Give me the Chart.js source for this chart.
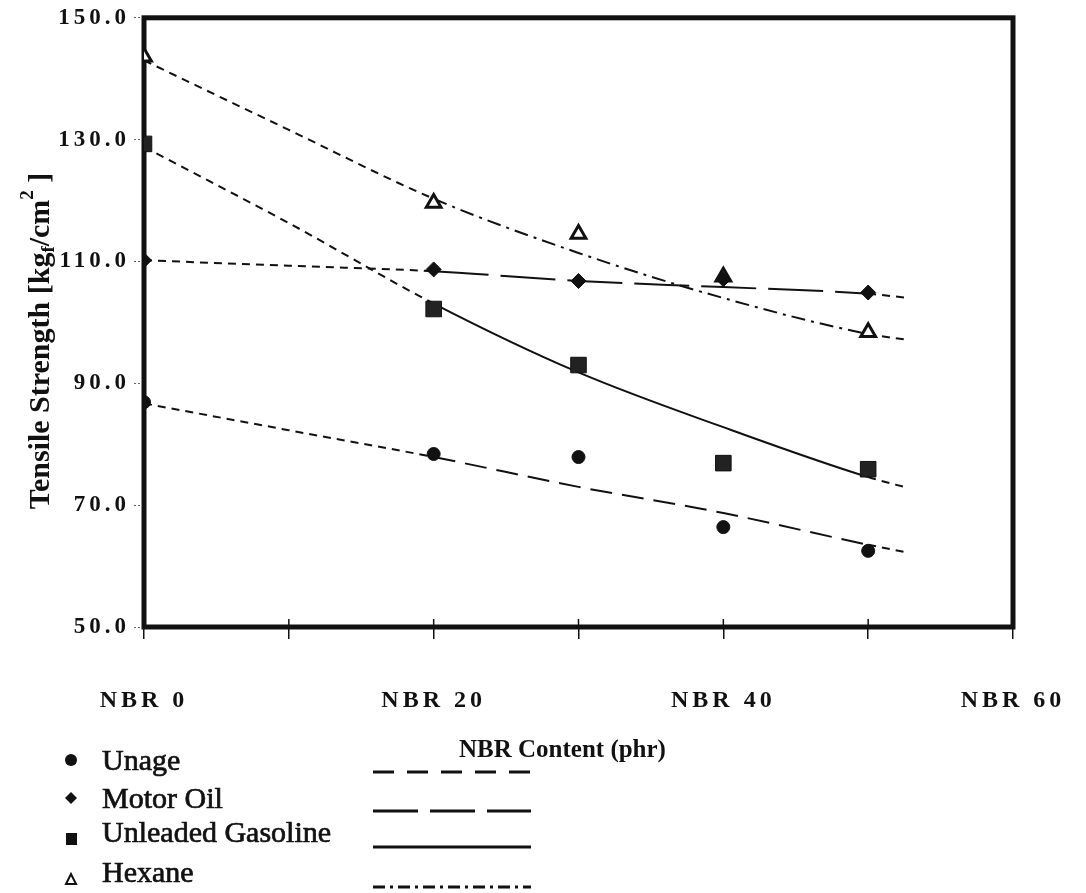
<!DOCTYPE html>
<html>
<head>
<meta charset="utf-8">
<title>Tensile Strength vs NBR Content</title>
<script src="https://cdn.jsdelivr.net/npm/chart.js@4.4.0/dist/chart.umd.min.js"></script>
<style>
  body { margin: 0; background: #fff; }
  #wrap { position: relative; width: 1086px; height: 893px; }
  #chart { position: absolute; left: 0; top: 0; }
  #legend { position: absolute; left: 0; top: 0; pointer-events: none; }
</style>
</head>
<body>
<div id="wrap">
  <canvas id="chart" width="1086" height="893"></canvas>
  <svg id="legend" width="1086" height="893" xmlns="http://www.w3.org/2000/svg"></svg>
</div>
<script>
// measured points
const nbrContent = [0, 20, 30, 40, 50];
const unage = [86.9, 78.4, 77.9, 66.4, 62.5];
const motorOil = [110.2, 108.7, 106.8, 107.1, 104.9];
const unleaded = [129.3, 102.2, 93.0, 76.9, 75.9];
const hexane = [143.6, 119.6, 114.5, 107.5, 98.4];

// trend curves
const trendX = [0, 10, 20, 30, 40, 50, 52.8];
const unageTrend = [86.7, 82.3, 77.9, 73.0, 68.7, 63.5, 62.2];
const motorOilTrend = [110.2, 109.3, 108.4, 106.8, 105.8, 104.7, 104.0];
const unleadedTrend = [128.8, 116.3, 103.1, 91.8, 82.8, 74.6, 72.8];
const hexaneTrend = [143.0, 131.6, 120.3, 111.4, 104.0, 98.1, 97.1];

const seriesNames = ['Unage', 'Motor Oil', 'Unleaded Gasoline', 'Hexane'];
const xLabelValues = [0, 20, 40, 60];
const xTitle = 'NBR Content (phr)';

const ink = '#111';
const shortDash = [8, 6];

function points(xs, ys) {
  return xs.map((x, i) => ({ x: x, y: ys[i] }));
}

function markerSet(label, values, style, radius, fill, order) {
  return {
    label: label,
    data: points(nbrContent, values),
    showLine: false,
    pointStyle: style,
    pointRadius: radius,
    pointBackgroundColor: fill,
    pointBorderColor: ink,
    pointBorderWidth: style === 'triangle' ? 3 : 1,
    order: order
  };
}

// short dash near both ends, series style in the middle
function trendSet(values, midDash) {
  return {
    data: points(trendX, values),
    showLine: true,
    borderColor: ink,
    borderWidth: 2,
    pointRadius: 0,
    cubicInterpolationMode: 'monotone',
    segment: {
      borderDash: ctx => (trendX[ctx.p1DataIndex] <= 20 || trendX[ctx.p0DataIndex] >= 50) ? shortDash : midDash
    },
    order: 10
  };
}

// canvas text spacing like the scanned figure
const spacing = {
  id: 'spacing',
  beforeDraw(chart) { chart.ctx.letterSpacing = '4px'; },
  afterDraw(chart) { chart.ctx.letterSpacing = '0px'; }
};

// heavy box round the plot
const frame = {
  id: 'frame',
  beforeDatasetsDraw(chart) {
    const a = chart.chartArea, ctx = chart.ctx;
    ctx.save();
    ctx.strokeStyle = ink;
    ctx.lineWidth = 5;
    ctx.strokeRect(a.left, a.top, a.right - a.left, a.bottom - a.top);
    // x ticks poke a little into the plot
    ctx.lineWidth = 1.5;
    const xs = chart.scales.x;
    xs.ticks.forEach(t => {
      const px = xs.getPixelForValue(t.value);
      ctx.beginPath();
      ctx.moveTo(px, a.bottom);
      ctx.lineTo(px, a.bottom - 8);
      ctx.stroke();
    });
    ctx.restore();
  }
};

// y title with sub / superscript
const yTitle = {
  id: 'yTitle',
  afterDraw(chart) {
    const ctx = chart.ctx;
    const big = 'bold 30px "Liberation Serif"';
    const small = 'bold 19px "Liberation Serif"';
    const parts = [
      ['Tensile Strength [kg', big, 0],
      ['f', small, 5],
      ['/cm', big, 0],
      ['2', small, -16],
      [' ]', big, 0]
    ];
    ctx.save();
    ctx.letterSpacing = '0px';
    ctx.translate(49, 341);
    ctx.rotate(-Math.PI / 2);
    let total = 0;
    parts.forEach(p => { ctx.font = p[1]; total += ctx.measureText(p[0]).width; });
    let x = -total / 2;
    ctx.fillStyle = ink;
    ctx.textBaseline = 'alphabetic';
    parts.forEach(p => {
      ctx.font = p[1];
      ctx.fillText(p[0], x, p[2]);
      x += ctx.measureText(p[0]).width;
    });
    ctx.restore();
  }
};

new Chart(document.getElementById('chart'), {
  type: 'scatter',
  data: {
    datasets: [
      markerSet(seriesNames[0], unage, 'circle', 6.5, ink, 0),
      markerSet(seriesNames[1], motorOil, 'rectRot', 7.5, ink, 1),
      markerSet(seriesNames[2], unleaded, 'rect', 11, '#222', 0),
      markerSet(seriesNames[3], hexane, 'triangle', 8.5, '#fff', 2),
      trendSet(unageTrend, [22, 10]),
      trendSet(motorOilTrend, [55, 12]),
      trendSet(unleadedTrend, []),
      trendSet(hexaneTrend, [14, 6, 3, 6])
    ]
  },
  options: {
    responsive: false,
    animation: false,
    layout: { padding: { top: 16, right: 73, left: 0, bottom: 0 } },
    plugins: {
      legend: { display: false },
      tooltip: { enabled: false }
    },
    scales: {
      x: {
        type: 'linear',
        min: 0,
        max: 60,
        afterFit: s => {
          s.height = 893 - 627;
          s.paddingLeft = 0;
          s.paddingRight = 0;
        },
        border: { display: false },
        grid: { drawOnChartArea: false, tickLength: 12, color: ink, lineWidth: 1.5 },
        ticks: {
          stepSize: 10,
          autoSkip: false,
          maxRotation: 0,
          padding: 47,
          color: ink,
          font: { family: 'Liberation Serif', weight: 'bold', size: 24 },
          callback: v => xLabelValues.includes(v) ? 'NBR ' + v : ''
        }
      },
      y: {
        min: 50,
        max: 150,
        afterFit: s => { s.width = 144; },
        border: { display: false },
        grid: { drawOnChartArea: false, tickLength: 10, color: '#666', tickBorderDash: [2, 2] },
        ticks: {
          stepSize: 20,
          padding: 4,
          color: ink,
          font: { family: 'Liberation Serif', weight: 'bold', size: 23 },
          callback: v => v.toFixed(1)
        }
      }
    }
  },
  plugins: [spacing, frame, yTitle]
});

// legend and axis title below the plot
const svgNS = 'http://www.w3.org/2000/svg';
const svg = document.getElementById('legend');
function add(tag, attrs, text) {
  const el = document.createElementNS(svgNS, tag);
  Object.keys(attrs).forEach(k => el.setAttribute(k, attrs[k]));
  if (text) el.textContent = text;
  svg.appendChild(el);
  return el;
}

add('text', { x: 459, y: 757, 'font-family': 'Liberation Serif', 'font-weight': 'bold', 'font-size': 25, fill: ink }, xTitle);

const rowBase = [770, 808, 842, 882];
const rowLine = [772, 811, 847, 887];
const lineDash = ['21 13', '45 12', 'none', '12 5 3 5'];
seriesNames.forEach((name, i) => {
  add('text', { x: 102, y: rowBase[i], 'font-family': 'Liberation Serif', 'font-size': 30, fill: ink, stroke: ink, 'stroke-width': 0.7 }, name);
  add('line', { x1: 373, x2: 531, y1: rowLine[i], y2: rowLine[i], stroke: ink, 'stroke-width': 3, 'stroke-dasharray': lineDash[i] });
});
add('circle', { cx: 71, cy: 760, r: 6, fill: ink });
add('polygon', { points: '71,792 77,798 71,804 65,798', fill: ink });
add('rect', { x: 66, y: 833, width: 11, height: 12, fill: ink });
add('polygon', { points: '71,874 66,884 76,884', fill: '#fff', stroke: ink, 'stroke-width': 2 });
</script>
</body>
</html>
